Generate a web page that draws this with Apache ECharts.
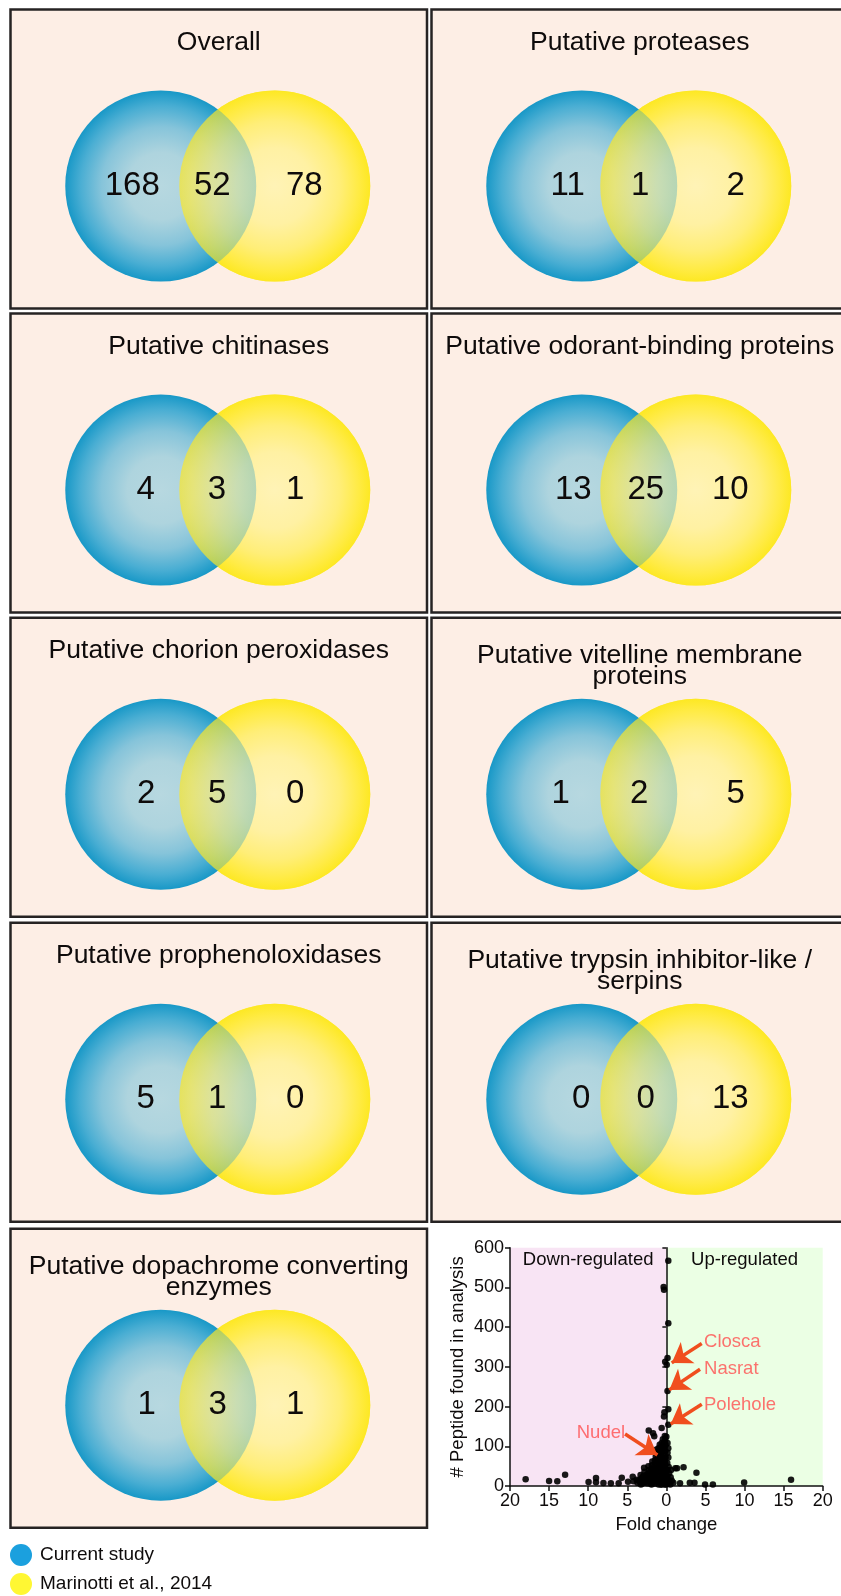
<!DOCTYPE html>
<html>
<head>
<meta charset="utf-8">
<title>Venn overlaps and fold change</title>
<script src="https://cdn.jsdelivr.net/npm/echarts@6/dist/echarts.min.js"></script>
<style>
  html, body { margin: 0; padding: 0; background: #fff; }
  #chart { width: 841px; height: 1596px; }
</style>
</head>
<body>
<div id="chart"></div>
<script>
// ---- data ----
const setNames = ['Current study', 'Marinotti et al., 2014']
const panelTitles = [
  'Overall',
  'Putative proteases',
  'Putative chitinases',
  'Putative odorant-binding proteins',
  'Putative chorion peroxidases',
  'Putative vitelline membrane\nproteins',
  'Putative prophenoloxidases',
  'Putative trypsin inhibitor-like /\nserpins',
  'Putative dopachrome converting\nenzymes'
]
const currentOnly = [168, 11, 4, 13, 2, 1, 5, 0, 1]
const sharedCount = [52, 1, 3, 25, 5, 2, 1, 0, 3]
const marinottiOnly = [78, 2, 1, 10, 0, 5, 0, 13, 1]

// fold change (negative = down-regulated) vs # peptides
const peptidePoints = [
  // near zero, tall
  [0.25, 567], [-0.35, 501], [-0.3, 494], [0.25, 410], [0.15, 322], [-0.15, 313], [0.05, 305],
  [0.15, 239], [0.25, 193], [-0.25, 186], [-0.3, 175], [0.25, 154], [-2.25, 140], [-1.7, 133],
  [-1.55, 125], [-0.6, 146], [0.0, 124], [0.15, 108], [0.25, 95],
  // down-regulated cluster
  [-0.15, 118], [-0.25, 110], [-0.1, 103], [-0.3, 96], [-0.15, 88], [-0.35, 80], [-0.1, 72],
  [-0.25, 64], [-0.15, 57], [-0.3, 50], [-0.1, 43], [-0.25, 36], [-0.15, 29], [-0.3, 22],
  [-0.1, 15], [-0.25, 8], [-0.15, 3],
  [-0.6, 108], [-0.7, 98], [-0.55, 90], [-0.65, 83], [-0.6, 75], [-0.75, 66], [-0.55, 58],
  [-0.7, 49], [-0.6, 41], [-0.65, 33], [-0.55, 25], [-0.7, 17], [-0.6, 9], [-0.65, 3],
  [-1.0, 95], [-0.95, 86], [-1.1, 78], [-1.0, 70], [-1.05, 60], [-0.95, 52], [-1.1, 44],
  [-1.0, 35], [-1.05, 27], [-0.95, 19], [-1.1, 11], [-1.0, 4],
  [-1.4, 84], [-1.35, 74], [-1.45, 65], [-1.4, 56], [-1.35, 46], [-1.5, 38], [-1.4, 30],
  [-1.45, 22], [-1.35, 14], [-1.5, 6],
  [-1.8, 62], [-1.85, 52], [-1.75, 42], [-1.9, 34], [-1.8, 26], [-1.85, 18], [-1.75, 10], [-1.9, 4],
  [-2.3, 50], [-2.25, 40], [-2.35, 31], [-2.3, 22], [-2.2, 14], [-2.4, 7],
  [-2.85, 46], [-2.8, 36], [-2.9, 26], [-2.75, 16], [-2.85, 8],
  [-3.3, 28], [-3.2, 18], [-3.35, 10], [-3.25, 4],
  [-3.8, 16], [-3.7, 8], [-4.3, 23], [-4.2, 12],
  [-0.4, 100], [-0.45, 70], [-0.4, 45], [-0.45, 18], [-0.85, 62], [-0.8, 40], [-0.8, 14],
  [-1.2, 66], [-1.25, 40], [-1.2, 18], [-1.6, 48], [-1.6, 30], [-1.6, 12], [-2.05, 36],
  [-2.05, 20], [-2.05, 6], [-2.55, 28], [-2.6, 12], [-3.05, 22], [-3.1, 6], [-3.55, 14],
  [-0.2, 126], [-0.45, 118], [-0.85, 104], [-1.25, 92],
  // down-regulated, spread out
  [-18, 17], [-15, 12.6], [-13.95, 12], [-12.95, 28.5], [-9.95, 10], [-9, 20], [-9, 9.5],
  [-8.05, 7.5], [-7.1, 7], [-6.1, 7], [-5.7, 21], [-4.9, 11],
  // up-regulated
  [0.12, 58], [0.3, 48], [0.15, 40], [0.6, 40], [0.35, 32], [0.55, 22], [0.15, 25], [0.35, 11],
  [0.2, 16], [0.7, 13], [0.15, 5], [0.5, 4], [0.9, 8], [0.25, 72], [0.15, 84],
  [1.15, 44.5], [1.37, 45], [2.2, 47], [1.75, 6.7], [3.0, 8], [3.6, 8], [3.85, 33.5],
  [4.95, 4], [5.95, 4], [9.95, 8.5], [15.95, 16]
]
const foldTicks = { min: -20, max: 20, step: 5 }
const peptideTicks = { min: 0, max: 600, step: 100 }
const regionNames = ['Down-regulated', 'Up-regulated']

const calloutNames = ['Closca', 'Nasrat', 'Polehole', 'Nudel']
const calloutTextAt = [[4.82, 363], [4.82, 296], [4.82, 204], [-5.28, 133]]
const calloutTail = [[4.53, 359], [4.31, 294], [4.53, 206], [-5.28, 131]]
const calloutTip = [[0.69, 310], [0.38, 242], [0.56, 156], [-1.15, 78]]

// ---- layout / style ----
const FONT = '"Liberation Sans", Arial, Helvetica, sans-serif'
const INK = '#0e0b0b'
const PANEL_W = 416.5
const PANEL_H = 299
const colLeft = [10.5, 431.5]
const rowTop = [9.5, 313.6, 617.8, 922.8, 1228.7]
const circleX = [-58, 56]
const circleY = -27
const countY = -26.8
const countX = [
  [-86.5, -6.5, 85.5], [-72, 0.5, 96], [-73, -1.8, 76.5], [-66.5, 6, 90.5], [-72.5, -1.5, 76.5],
  [-79, -0.5, 96], [-73, -1.5, 76.5], [-58.5, 6, 90.5], [-72, -1, 76.5]
]

const radial = stops => ({
  type: 'radial', x: 0.5, y: 0.5, r: 0.5,
  colorStops: stops.map(([offset, color]) => ({ offset, color }))
})
const blueFill = radial([[0, '#b7d8e0'], [0.35, '#aed4de'], [0.62, '#86c4da'], [0.84, '#4aaed3'], [1, '#1898c7']])
const yellowFill = radial([[0, '#fff3b6'], [0.4, '#fff1a3'], [0.68, '#ffee78'], [0.88, '#ffeb44'], [1, '#fde823']])

const grids = []
const xAxes = []
const yAxes = []
const titles = []
const series = []

panelTitles.forEach((title, i) => {
  const left = colLeft[i % 2]
  const top = rowTop[Math.floor(i / 2)]
  grids.push({
    left, top, width: PANEL_W, height: PANEL_H, show: true,
    backgroundColor: '#fdeee5', borderColor: '#262323', borderWidth: 2.5,
    outerBoundsMode: 'none'
  })
  xAxes.push({ gridIndex: i, type: 'value', min: -PANEL_W / 2, max: PANEL_W / 2, show: false })
  yAxes.push({ gridIndex: i, type: 'value', min: -PANEL_H / 2, max: PANEL_H / 2, show: false })
  const twoLines = title.indexOf('\n') >= 0
  titles.push({
    text: title, left: left + PANEL_W / 2, top: top + (twoLines ? 27 : 22.5),
    textAlign: 'center', textVerticalAlign: 'top', padding: 0,
    textStyle: { fontSize: 26.5, fontWeight: 'normal', lineHeight: 21, color: INK, fontFamily: FONT }
  })
  const circle = { type: 'scatter', xAxisIndex: i, yAxisIndex: i, symbol: 'circle', symbolSize: 191, silent: true, z: 2 }
  series.push({ ...circle, name: setNames[1], data: [[circleX[1], circleY]], itemStyle: { color: yellowFill, opacity: 1 } })
  series.push({ ...circle, name: setNames[0], data: [[circleX[0], circleY]], itemStyle: { color: blueFill, opacity: 1 } })
  series.push({ ...circle, name: setNames[1], data: [[circleX[1], circleY]], itemStyle: { color: yellowFill, opacity: 0.68 } })
  const counts = [currentOnly[i], sharedCount[i], marinottiOnly[i]]
  series.push({
    type: 'scatter', xAxisIndex: i, yAxisIndex: i, symbolSize: 1, silent: true, z: 3,
    itemStyle: { color: 'rgba(0,0,0,0)', opacity: 1 },
    data: counts.map((c, k) => [countX[i][k], countY, c]),
    label: {
      show: true, position: 'inside', formatter: p => String(p.value[2]),
      fontSize: 33, color: INK, opacity: 1, fontFamily: FONT, textBorderWidth: 0
    }
  })
})

// ---- fold change scatter ----
const V = panelTitles.length
const axisInk = { color: '#111', width: 1.5 }
grids.push({ left: 510, top: 1247.7, width: 312.7, height: 238.3, outerBoundsMode: 'none' })
xAxes.push({
  gridIndex: V, type: 'value', min: foldTicks.min, max: foldTicks.max, interval: foldTicks.step, z: 2,
  axisLine: { show: true, onZero: false, lineStyle: axisInk },
  axisTick: { show: true, length: 5, lineStyle: axisInk },
  axisLabel: { fontSize: 18, color: INK, margin: 6, fontFamily: FONT, formatter: v => String(Math.abs(v)) },
  splitLine: { show: false },
  name: 'Fold change', nameLocation: 'middle', nameGap: 29,
  nameTextStyle: { fontSize: 18.5, color: INK, fontFamily: FONT }
})
yAxes.push({
  gridIndex: V, type: 'value', position: 'left', min: peptideTicks.min, max: peptideTicks.max, interval: peptideTicks.step, z: 2,
  axisLine: { show: true, onZero: false, lineStyle: axisInk },
  axisTick: { show: true, length: 5, lineStyle: axisInk },
  axisLabel: { fontSize: 18, color: INK, margin: 6, fontFamily: FONT },
  splitLine: { show: false },
  name: '# Peptide found in analysis', nameLocation: 'middle', nameGap: 43,
  nameTextStyle: { fontSize: 18.5, color: INK, fontFamily: FONT }
})
yAxes.push({
  gridIndex: V, type: 'value', position: 'left', min: peptideTicks.min, max: peptideTicks.max, interval: peptideTicks.step, z: 2,
  axisLine: { show: true, onZero: true, lineStyle: axisInk },
  axisTick: { show: true, length: 4, lineStyle: axisInk },
  axisLabel: { show: false },
  splitLine: { show: false }
})

const regionLabel = { show: true, position: 'insideTop', distance: 3, fontSize: 18.5, color: INK, fontFamily: FONT }
series.push({
  type: 'scatter', xAxisIndex: V, yAxisIndex: V, data: [], silent: true, z: 1,
  markArea: {
    silent: true,
    label: regionLabel,
    data: [
      [{ name: regionNames[0], xAxis: foldTicks.min, yAxis: peptideTicks.min, itemStyle: { color: '#f8e4f4' } },
       { xAxis: 0, yAxis: peptideTicks.max }],
      [{ name: regionNames[1], xAxis: 0, yAxis: peptideTicks.min, itemStyle: { color: '#ebffe4' } },
       { xAxis: foldTicks.max, yAxis: peptideTicks.max }]
    ]
  }
})
series.push({
  type: 'scatter', xAxisIndex: V, yAxisIndex: V, data: peptidePoints, silent: true, z: 3,
  symbol: 'circle', symbolSize: 6.5,
  itemStyle: { color: '#000', opacity: 0.9 }
})
series.push({
  type: 'scatter', xAxisIndex: V, yAxisIndex: V, silent: true, z: 4, symbolSize: 0,
  data: calloutNames.map((name, k) => ({
    name, value: calloutTextAt[k],
    label: { position: calloutTextAt[k][0] < 0 ? 'left' : 'right' }
  })),
  label: { show: true, formatter: '{b}', distance: 0, fontSize: 18.5, color: '#ff4f4f', fontFamily: FONT },
  markLine: {
    silent: true, symbol: ['none', 'arrow'], symbolSize: 19,
    lineStyle: { color: '#f04e1e', width: 3.5, type: 'solid' },
    label: { show: false },
    data: calloutNames.map((n, k) => [{ coord: calloutTail[k] }, { coord: calloutTip[k] }])
  }
})

const chart = echarts.init(document.getElementById('chart'))
chart.setOption({
  animation: false,
  textStyle: { fontFamily: FONT },
  title: titles,
  legend: {
    orient: 'vertical', left: 10, top: 1544, height: 56, padding: 0,
    itemWidth: 22, itemHeight: 22, itemGap: 7,
    icon: 'circle', selectedMode: false,
    textStyle: { fontSize: 19, color: INK, fontFamily: FONT, padding: [0, 0, 0, 3] },
    data: [
      { name: setNames[0], itemStyle: { color: '#1ba0de' } },
      { name: setNames[1], itemStyle: { color: '#fff733' } }
    ]
  },
  grid: grids,
  xAxis: xAxes,
  yAxis: yAxes,
  series
})
</script>
</body>
</html>
